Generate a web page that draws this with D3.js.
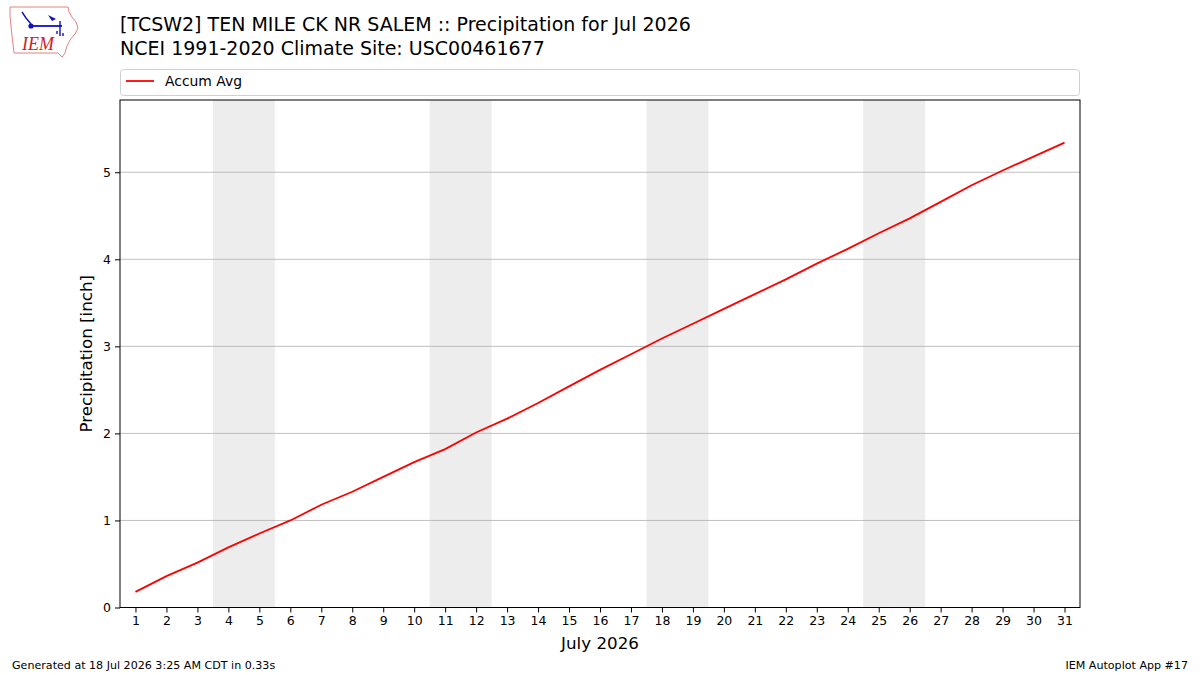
<!DOCTYPE html>
<html>
<head>
<meta charset="utf-8">
<script src="https://cdn.jsdelivr.net/npm/d3@7"></script>
<style>
  body { margin: 0; background: #fff; }
  svg text { font-family: "DejaVu Sans", sans-serif; }
</style>
</head>
<body>
<div id="wrapper"></div>
<script>
// data
const days = d3.range(1, 32);
const accumAvg = [0.18, 0.36, 0.515, 0.69, 0.85, 1.00, 1.18, 1.33, 1.50, 1.67,
  1.82, 2.01, 2.17, 2.35, 2.54, 2.73, 2.91, 3.09, 3.26, 3.43,
  3.60, 3.77, 3.95, 4.12, 4.30, 4.47, 4.66, 4.85, 5.02, 5.18, 5.34];
const weekends = [[3.5, 5.5], [10.5, 12.5], [17.5, 19.5], [24.5, 26.5]];
const yTicks = [0, 1, 2, 3, 4, 5];

let dimensions = {
  width: 1200,
  height: 675,
  margin: { top: 100, left: 120, bottom: 67.5, right: 120 }
}
dimensions.boundedWidth = dimensions.width - dimensions.margin.left - dimensions.margin.right;
dimensions.boundedHeight = dimensions.height - dimensions.margin.top - dimensions.margin.bottom;

const wrapper = d3.select("#wrapper").append("svg")
    .attr("width", dimensions.width)
    .attr("height", dimensions.height);

const xScale = d3.scaleLinear()
    .domain([0.5, 31.5])
    .range([0, dimensions.boundedWidth]);
const yScale = d3.scaleLinear()
    .domain([0, 5.83])
    .range([dimensions.boundedHeight, 0]);

const container = wrapper.append("g")
    .attr("transform", `translate(${dimensions.margin.left}, ${dimensions.margin.top})`);

// weekend shading
container.selectAll("rect.weekend")
    .data(weekends)
    .enter()
    .append("rect")
    .attr("class", "weekend")
    .attr("x", d => xScale(d[0]))
    .attr("width", d => xScale(d[1]) - xScale(d[0]))
    .attr("y", 0)
    .attr("height", dimensions.boundedHeight)
    .attr("fill", "#ededed");

// horizontal grid
container.selectAll("line.grid")
    .data(yTicks)
    .enter()
    .append("line")
    .attr("class", "grid")
    .attr("x1", 0)
    .attr("x2", dimensions.boundedWidth)
    .attr("y1", d => yScale(d))
    .attr("y2", d => yScale(d))
    .attr("stroke", "#b0b0b0")
    .attr("stroke-width", 0.8);

// accumulated line
const line = d3.line()
    .x((d, i) => xScale(days[i]))
    .y(d => yScale(d));
container.append("path")
    .datum(accumAvg)
    .attr("d", line)
    .attr("fill", "none")
    .attr("stroke", "#ff0000")
    .attr("stroke-width", 1.8);

// frame
container.append("rect")
    .attr("width", dimensions.boundedWidth)
    .attr("height", dimensions.boundedHeight)
    .attr("fill", "none")
    .attr("stroke", "#000")
    .attr("stroke-width", 1);

// axes
const xAxisGen = d3.axisBottom(xScale).tickValues(days).tickSize(5).tickPadding(4).tickSizeOuter(0);
const yAxisGen = d3.axisLeft(yScale).tickValues(yTicks).tickFormat(d3.format("d"))
    .tickSize(5).tickPadding(4).tickSizeOuter(0);

const axisX = container.append("g")
    .attr("transform", `translate(0, ${dimensions.boundedHeight})`)
    .call(xAxisGen);
const axisY = container.append("g").call(yAxisGen);
[axisX, axisY].forEach(a => {
  a.select(".domain").remove();
  a.selectAll("text")
      .style("font-family", "DejaVu Sans")
      .style("font-size", "12.5px")
      .attr("fill", "#000");
  a.selectAll("line").attr("stroke", "#000").attr("stroke-width", 1);
});

// axis labels
wrapper.append("text")
    .attr("x", dimensions.margin.left + dimensions.boundedWidth / 2)
    .attr("y", 649)
    .attr("text-anchor", "middle")
    .style("font-size", "16.7px")
    .text("July 2026");
wrapper.append("text")
    .attr("transform", `translate(92, ${dimensions.margin.top + dimensions.boundedHeight / 2}) rotate(-90)`)
    .attr("text-anchor", "middle")
    .style("font-size", "16.7px")
    .text("Precipitation [inch]");

// legend
wrapper.append("rect")
    .attr("x", 120.5)
    .attr("y", 69.5)
    .attr("width", 959)
    .attr("height", 26)
    .attr("rx", 3)
    .attr("fill", "#fff")
    .attr("stroke", "#d0d0d0");
wrapper.append("line")
    .attr("x1", 126).attr("x2", 154)
    .attr("y1", 81).attr("y2", 81)
    .attr("stroke", "#ff0000")
    .attr("stroke-width", 1.8);
wrapper.append("text")
    .attr("x", 165)
    .attr("y", 86)
    .style("font-size", "13.9px")
    .text("Accum Avg");

// title
wrapper.append("text")
    .attr("x", 120)
    .attr("y", 31)
    .style("font-size", "19px")
    .text("[TCSW2] TEN MILE CK NR SALEM :: Precipitation for Jul 2026");
wrapper.append("text")
    .attr("x", 120)
    .attr("y", 55)
    .style("font-size", "19px")
    .text("NCEI 1991-2020 Climate Site: USC00461677");

// footer
wrapper.append("text")
    .attr("x", 12)
    .attr("y", 669)
    .style("font-size", "11.1px")
    .text("Generated at 18 Jul 2026 3:25 AM CDT in 0.33s");
wrapper.append("text")
    .attr("x", 1188)
    .attr("y", 669)
    .attr("text-anchor", "end")
    .style("font-size", "11.1px")
    .text("IEM Autoplot App #17");

// logo (rough Iowa outline + IEM)
const logo = wrapper.append("g");
logo.append("path")
    .attr("d", "M10,7 L68,7 L69,12 L72,17 L76,22 L78,28 L75,34 L70,40 L67,46 L65,53 L62,57 L58,53 L14,53 L13,44 L12,36 L11,26 L10,16 Z")
    .attr("fill", "#fff")
    .attr("stroke", "#e06060")
    .attr("stroke-width", 0.8);
logo.append("line").attr("x1", 31).attr("x2", 62).attr("y1", 26).attr("y2", 26)
    .attr("stroke", "#1010c0").attr("stroke-width", 1.8);
logo.append("circle").attr("cx", 31).attr("cy", 26).attr("r", 2.6).attr("fill", "#1010c0");
logo.append("path").attr("d", "M22,12 L26,18 L31,24").attr("fill", "none")
    .attr("stroke", "#1010c0").attr("stroke-width", 1.4);
logo.append("path").attr("d", "M48,15 L56,19 L52,21 Z").attr("fill", "#1010c0");
logo.append("path").attr("d", "M60,21 L60,36 M57,31 L57,34 M63,33 L63,36").attr("fill", "none")
    .attr("stroke", "#1010c0").attr("stroke-width", 1.4);
logo.append("text")
    .attr("x", 22).attr("y", 50)
    .style("font-family", "Liberation Serif")
    .style("font-style", "italic")
    .style("font-size", "18px")
    .attr("fill", "#d02020")
    .text("IEM");
</script>
</body>
</html>
